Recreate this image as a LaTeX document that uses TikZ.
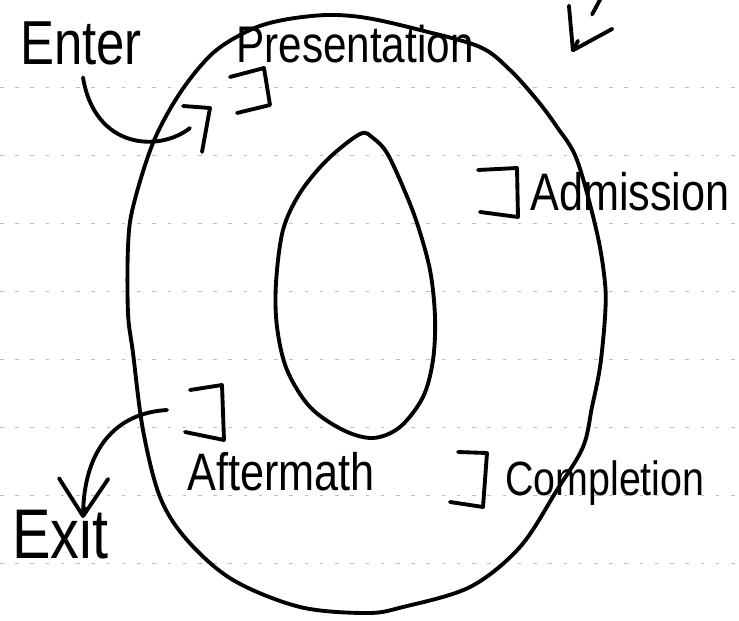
\documentclass[tikz,border=0pt]{standalone}
\usepackage{fontspec}
\setmainfont{Liberation Sans}[FakeStretch=0.82]
\usepackage{tikz}
\usetikzlibrary{arrows.meta,calc}
\definecolor{ink}{RGB}{0,0,0}
\definecolor{ruleline}{RGB}{190,190,190}
\tikzstyle{stroke} = [line width=3.3pt, color=ink, line cap=round, line join=round]
\tikzstyle{rule} = [line width=0.7pt, color=ruleline, dash pattern=on 3pt off 10pt]
\tikzstyle{vhead} = [-{Straight Barb[length=32pt,width=42pt,round]}]
\tikzstyle{lbl} = [inner sep=0pt, anchor=base west, color=ink, font=\fontsize{45}{48}\selectfont]

\begin{document}
\begin{tikzpicture}[x=0.03cm, y=-0.03cm]
\useasboundingbox (0,0) rectangle (739,620);

% faint ruled lines of the paper
\draw[rule] (0,87) -- (739,87) (0,155) -- (739,155) (0,223) -- (739,223)
  (0,291) -- (739,291) (0,359) -- (739,359) (0,427) -- (739,427)
  (0,495) -- (739,495) (0,563) -- (739,563);

% outer loop
\draw[stroke] plot[smooth cycle, tension=0.55] coordinates {
  (283,20) (327,15) (367,18) (420,30) (480,47) (510,70) (537,100)
  (557,127) (577,160) (597,233) (605,283) (605,317) (600,367) (592,407)
  (583,447) (557,490) (520,547) (470,587) (403,607) (367,613) (300,607)
  (233,580) (187,540) (160,497) (143,430) (133,353) (128,313) (128,247)
  (133,207) (153,143) (180,93) (213,53) (250,30)};

% inner loop
\draw[stroke] plot[smooth cycle, tension=0.55] coordinates {
  (360,134) (327,160) (300,193) (283,230) (276,283) (277,327) (287,370)
  (310,407) (343,430) (373,438) (400,427) (423,397) (433,360) (435,317)
  (430,270) (417,223) (403,187) (387,153) (373,138)};

% stage labels
\node[lbl, font=\fontsize{53}{56}\selectfont] (enter) at (20,65) {Enter};
\node[lbl, font=\fontsize{44}{48}\selectfont] (presentation) at (236,63) {Presentation};
\node[lbl] (admission) at (530,210) {Admission};
\node[lbl] (aftermath) at (187,490) {Aftermath};
\node[lbl, font=\fontsize{41}{44}\selectfont] (completion) at (505,495) {Completion};
\node[lbl, font=\fontsize{60}{62}\selectfont] (exit) at (12,558) {Exit};

% stage brackets
\draw[stroke] (230,77) -- (264,68) -- (270,105) -- (237,113);
\draw[stroke] (183,106) -- (210,108) -- (202,152);
\draw[stroke] (478,170) -- (517,168) -- (518,217) -- (480,212);
\draw[stroke] (190,390) -- (222,385) -- (224,440) -- (185,432);
\draw[stroke] (458,452) -- (487,453) -- (483,507) -- (450,502);

% way in and way out
\coordinate (entrymark) at (190,128);
\draw[stroke, shorten <=10pt] (enter.south) .. controls (95,150) and (160,152) .. (entrymark);
\coordinate (exitmark) at (167,410);
\coordinate (exittip) at (83,518);
\draw[stroke, vhead] (exitmark) .. controls (115,413) and (84,450) .. (exittip);

% arrow at the top right
\coordinate (checktop) at (602,-4);
\coordinate (checktip) at (572,52);
\draw[stroke] (checktop) -- ($(checktop)!0.33!(checktip)$);
\draw[stroke, vhead] ($(checktop)!0.8!(checktip)$) -- (checktip);
\end{tikzpicture}
\end{document}
